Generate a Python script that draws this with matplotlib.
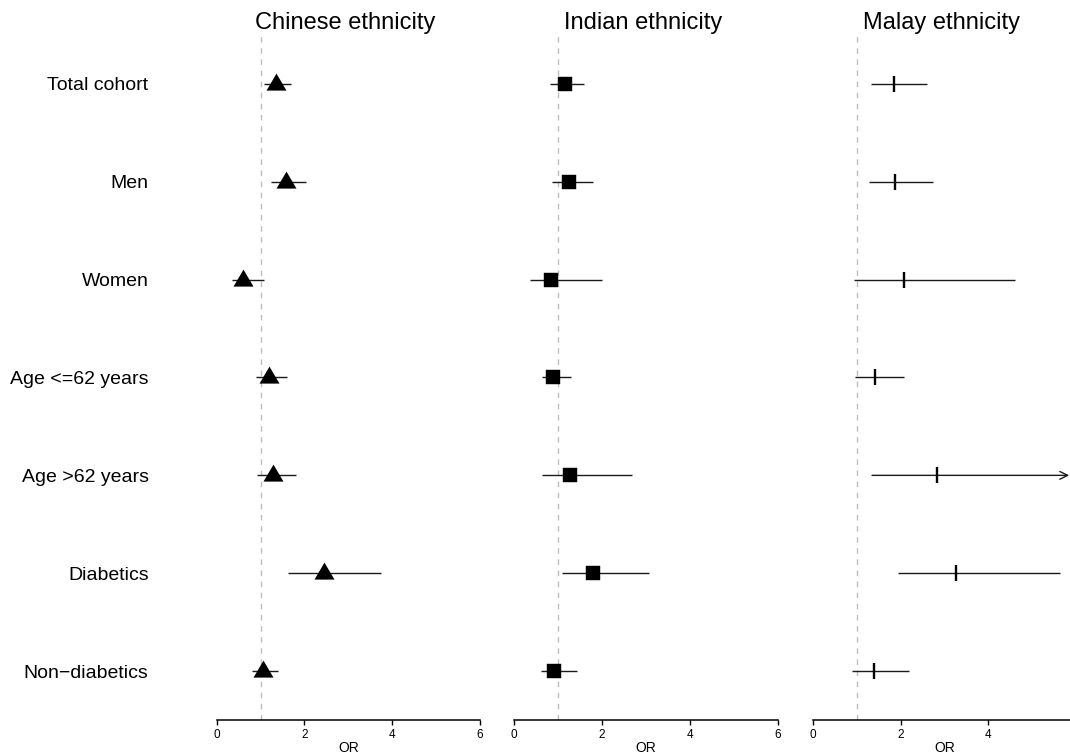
import numpy as np
import matplotlib
matplotlib.use("Agg")
import matplotlib.pyplot as plt
from matplotlib.path import Path

plt.rcParams['font.family'] = ['Liberation Sans', 'DejaVu Sans']

categories = ["Total cohort", "Men", "Women", "Age <=62 years", "Age >62 years",
              "Diabetics", "Non\u2212diabetics"]
panel_titles = ["Chinese ethnicity", "Indian ethnicity", "Malay ethnicity"]

chinese_or = [1.35, 1.59, 0.60, 1.19, 1.29, 2.45, 1.06]
chinese_lo = [1.09, 1.24, 0.34, 0.90, 0.93, 1.62, 0.81]
chinese_hi = [1.69, 2.03, 1.09, 1.60, 1.82, 3.74, 1.39]

indian_or = [1.15, 1.25, 0.84, 0.89, 1.27, 1.80, 0.91]
indian_lo = [0.82, 0.87, 0.36, 0.62, 0.62, 1.08, 0.60]
indian_hi = [1.59, 1.79, 2.00, 1.30, 2.67, 3.06, 1.43]

malay_or = [1.85, 1.87, 2.08, 1.41, 2.84, 3.27, 1.39]
malay_lo = [1.33, 1.29, 0.94, 0.97, 1.35, 1.93, 0.89]
malay_hi = [2.59, 2.73, 4.61, 2.08, np.inf, 5.63, 2.19]   # inf: beyond plotted range

x_ticks = [0, 2, 4, 6]
x_clip = 5.84   # CIs beyond this are drawn as an arrow
ref_line = 1.0

series = [(chinese_or, chinese_lo, chinese_hi),
          (indian_or, indian_lo, indian_hi),
          (malay_or, malay_lo, malay_hi)]

# custom triangle marker (CI line passes below the middle, like R's pch 17)
tri = Path([(0, 10.9), (-10, -6.1), (10, -6.1), (0, 10.9)],
           [Path.MOVETO, Path.LINETO, Path.LINETO, Path.CLOSEPOLY])
markers = [dict(marker=tri, markersize=15.7, color='black', mew=0),
           dict(marker='s', markersize=10.5, color='black', mew=0.3),
           dict(marker='|', markersize=11, color='black', mew=1.7)]

W, H = 1070, 755
fig = plt.figure(figsize=(W / 100, H / 100), dpi=100)

unit = 43.9
lefts = [216.6, 514.3, 812.8]
ax_bottom = 720
ax_top = 35
rows = np.arange(1, len(categories) + 1)

for i, (vals, left) in enumerate(zip(series, lefts)):
    orv, lo, hi = vals
    ax = fig.add_axes([left / W, 1 - ax_bottom / H, 6 * unit / W, (ax_bottom - ax_top) / H])
    ax.set_xlim(0, 6)
    ax.set_ylim(len(categories) + 0.5, 0.5)
    ax.axvline(ref_line, color='#bdbdbd', lw=1.0, ls=(0, (4, 4)), zorder=1)
    for r, o, l, h in zip(rows, orv, lo, hi):
        if np.isfinite(h):
            ax.plot([l, h], [r, r], color='#1a1a1a', lw=1.0, zorder=2, clip_on=False,
                    solid_capstyle='butt')
        else:
            ax.annotate('', xy=(x_clip, r), xytext=(l, r),
                        arrowprops=dict(arrowstyle='->', lw=1.0, color='#1a1a1a',
                                        shrinkA=0, shrinkB=0, mutation_scale=14),
                        annotation_clip=False, zorder=2)
        ax.plot([o], [r], linestyle='none', zorder=3, clip_on=False, **markers[i])
    for s in ['top', 'right', 'left']:
        ax.spines[s].set_visible(False)
    ax.spines['bottom'].set_bounds(0, 6)
    ax.spines['bottom'].set_linewidth(1.1)
    ax.set_xticks(x_ticks)
    ax.set_xticklabels([str(t) for t in x_ticks])
    ax.tick_params(axis='x', length=3.5, width=1.0, labelsize=8.5, pad=3)
    ax.set_xlabel("OR", fontsize=10, labelpad=0)
    if i == 0:
        ax.set_yticks(rows)
        ax.set_yticklabels(categories, fontsize=14)
        ax.tick_params(axis='y', length=0, pad=49)
    else:
        ax.set_yticks([])
    ax.text(2.93, 1 - 23 / H, panel_titles[i], fontsize=17, ha='center', va='center',
            transform=matplotlib.transforms.blended_transform_factory(ax.transData, fig.transFigure))

fig.savefig("out.png", dpi=100)
